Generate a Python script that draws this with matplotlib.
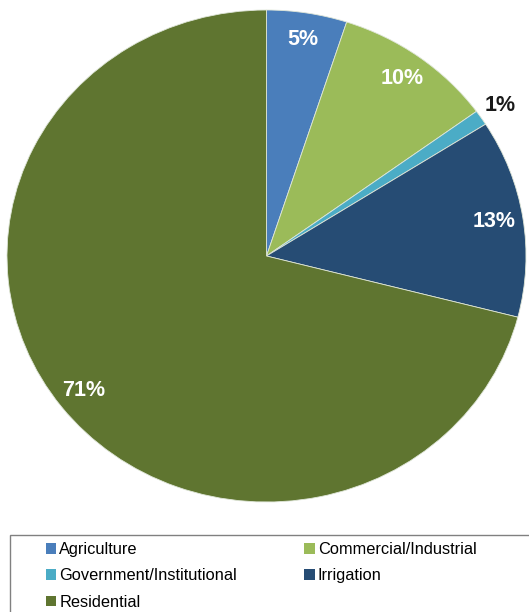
import matplotlib.pyplot as plt
import matplotlib.patches as mpatches
import numpy as np

plt.rcParams['font.family'] = ['Liberation Sans', 'DejaVu Sans']

sectores = ['Agriculture', 'Commercial/Industrial', 'Government/Institutional',
            'Irrigation', 'Residential']
porcentajes = [5, 10, 1, 13, 71]
colores = ['#4A7EBB', '#9BBB59', '#4BACC6', '#264C74', '#5F7530']

W, H = 529, 612
fig = plt.figure(figsize=(W / 100, H / 100), dpi=100)

# el pastel ocupa una caja algo mas ancha que alta (se ve eliptico)
ax = fig.add_axes([7 / W, (H - 502) / H, 519 / W, 492 / H])
wedges, textos, pcts = ax.pie(
    porcentajes, colors=colores, startangle=90, counterclock=False,
    autopct='%.0f%%', pctdistance=0.89,
    wedgeprops=dict(edgecolor='#dfe6d8', linewidth=0.6),
    textprops=dict(color='white', fontsize=15.5, fontweight='bold'))
ax.set_aspect('auto')
ax.set_xlim(-1, 1)
ax.set_ylim(-1, 1)
ax.axis('off')

# el 1% va por fuera en negro
i = 2
w = wedges[i]
ang = np.deg2rad((w.theta1 + w.theta2) / 2)
pcts[i].set_position((1.09 * np.cos(ang), 1.09 * np.sin(ang)))
pcts[i].set_color('#1a1a1a')

# leyenda: orden por filas, dos columnas
orden = [0, 2, 4, 1, 3]
handles = [mpatches.Patch(facecolor=colores[k], edgecolor='none') for k in orden]
etiquetas = [sectores[k] for k in orden]
fig.legend(handles, etiquetas, loc='upper left',
           bbox_to_anchor=(46 / W, (H - 542) / H), ncol=2, frameon=False,
           fontsize=11.8, handlelength=0.62, handleheight=0.62,
           handletextpad=0.2, columnspacing=4.1, labelspacing=0.7,
           borderpad=0, borderaxespad=0)

caja = mpatches.Rectangle((10 / W, -0.05), 1.0, (H - 535) / H + 0.05,
                          transform=fig.transFigure, fill=False,
                          edgecolor='#808080', linewidth=1.0)
fig.patches.append(caja)

fig.savefig('out.png', dpi=100)
